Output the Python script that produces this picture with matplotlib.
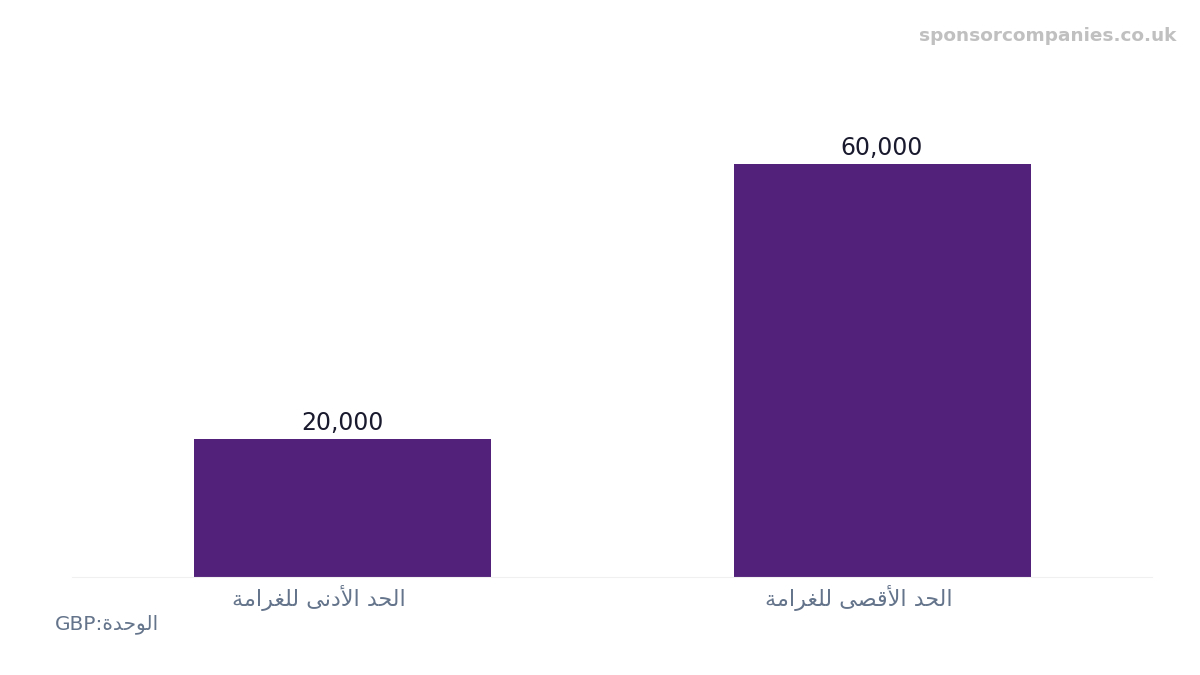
import matplotlib
matplotlib.use("Agg")
import matplotlib.pyplot as plt
import matplotlib.transforms as mtransforms

purple = '#52217a'
label_grey = '#64748b'

categories = ["الحد الأدنى للغرامة", "الحد الأقصى للغرامة"]
fines = [20000, 60000]
unit_word = "الوحدة"
unit_code = "GBP"
watermark = "sponsorcompanies.co.uk"

# matplotlib has no arabic shaping, so pick the presentation forms by hand
# (isolated, final, initial, medial)
FORMS = {
    'ا': (0xFE8D, 0xFE8E), 'أ': (0xFE83, 0xFE84),
    'د': (0xFEA9, 0xFEAA), 'ر': (0xFEAD, 0xFEAE),
    'ى': (0xFEEF, 0xFEF0), 'ة': (0xFE93, 0xFE94), 'و': (0xFEED, 0xFEEE),
    'ل': (0xFEDD, 0xFEDE, 0xFEDF, 0xFEE0), 'ح': (0xFEA1, 0xFEA2, 0xFEA3, 0xFEA4),
    'ن': (0xFEE5, 0xFEE6, 0xFEE7, 0xFEE8), 'غ': (0xFECD, 0xFECE, 0xFECF, 0xFED0),
    'م': (0xFEE1, 0xFEE2, 0xFEE3, 0xFEE4), 'ق': (0xFED5, 0xFED6, 0xFED7, 0xFED8),
    'ص': (0xFEB9, 0xFEBA, 0xFEBB, 0xFEBC),
}
LAM_ALEF = {'ا': (0xFEFB, 0xFEFC), 'أ': (0xFEF7, 0xFEF8)}

def shape_word(word):
    letters = []
    i = 0
    while i < len(word):
        if word[i] == 'ل' and i + 1 < len(word) and word[i+1] in LAM_ALEF:
            letters.append(LAM_ALEF[word[i+1]])
            i += 2
        else:
            letters.append(FORMS[word[i]])
            i += 1
    out = []
    for j, f in enumerate(letters):
        prev = j > 0 and len(letters[j-1]) == 4
        nxt = j + 1 < len(letters) and len(f) == 4
        if prev and nxt:
            c = f[3]
        elif prev:
            c = f[1]
        elif nxt:
            c = f[2]
        else:
            c = f[0]
        out.append(chr(c))
    return "".join(out)

def rtl(text):
    shaped = " ".join(shape_word(w) for w in text.split(" "))
    return shaped[::-1]

fig = plt.figure(figsize=(12, 6.75), dpi=100)
ax = fig.add_axes([0.06, 0.1452, 0.9, 0.6726])

x = list(range(len(categories)))
bars = ax.bar(x, fines, width=0.55, color=purple)
ax.set_xlim(-0.5, 1.5)
ax.set_ylim(0, 66000)

for bar, v in zip(bars, fines):
    ax.annotate("{:,}".format(v), (bar.get_x() + bar.get_width()/2, v),
                xytext=(0, 3), textcoords="offset points",
                ha="center", va="bottom", fontsize=17, color="#1a1a2e")

ax.set_xticks(x)
ax.set_xticklabels([rtl(c) for c in categories], fontsize=16, color=label_grey)
ax.tick_params(axis="x", length=0, pad=6)
# labels sit a little left of the bar centres in the original
shift = mtransforms.ScaledTranslation(-23/100, 0, fig.dpi_scale_trans)
for lbl in ax.get_xticklabels():
    lbl.set_transform(lbl.get_transform() + shift)
ax.set_yticks([])
for name, spine in ax.spines.items():
    spine.set_visible(name == "bottom")
ax.spines["bottom"].set_color("#f0f0f0")

fig.text(0.046, 1 - 624/675, unit_code + ":" + rtl(unit_word),
         ha="left", va="center", fontsize=14.5, color=label_grey)
fig.text(0.98, 1 - 36/675, watermark, ha="right", va="center",
         fontsize=13.3, fontweight="bold", color="#c0c0c0")

fig.savefig("out.png", dpi=100)
